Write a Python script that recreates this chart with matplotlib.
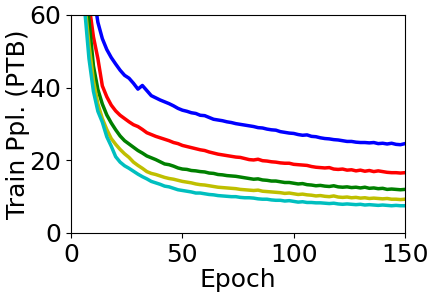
import numpy as np
import matplotlib
matplotlib.use("Agg")
import matplotlib.pyplot as plt

# epochs sampled every 2
epochs = np.arange(0, 151, 2)

blue = [250, 180, 130, 100, 80, 66, 58, 53.5, 50.5, 48.3, 46.5, 44.8, 43.4, 42.6, 41.2, 39.6,
        40.6, 39.2, 37.8, 37.2, 36.6, 36.1, 35.6, 35.0, 34.3, 33.8, 33.5, 33.1, 32.9, 32.4, 32.3,
        31.8, 31.3, 31.1, 30.9, 30.6, 30.4, 30.1, 29.9, 29.7, 29.5, 29.3, 29.0, 28.9, 28.6, 28.4,
        28.3, 27.9, 27.7, 27.5, 27.4, 27.1, 26.9, 27.0, 26.6, 26.5, 26.2, 26.0, 25.9, 25.7, 25.6,
        25.4, 25.2, 25.2, 25.0, 24.9, 24.9, 24.8, 24.9, 24.6, 24.7, 24.5, 24.7, 24.4, 24.3, 24.6]
red = [200, 140, 100, 78, 63, 54, 48, 40.5, 37.5, 35.2, 33.6, 32.4, 31.5, 30.6, 29.8, 29.3,
       28.5, 27.6, 27.1, 26.6, 26.2, 25.8, 25.4, 24.9, 24.6, 24.1, 23.8, 23.5, 23.2, 22.9, 22.7,
       22.3, 22.0, 21.7, 21.5, 21.3, 21.1, 20.9, 20.8, 20.5, 20.2, 20.1, 20.3, 19.9, 19.8, 19.6,
       19.5, 19.3, 19.2, 19.2, 18.9, 18.8, 18.7, 18.6, 18.3, 18.1, 18.0, 17.9, 18.0, 17.6, 17.5,
       17.6, 17.3, 17.4, 17.1, 17.3, 17.0, 17.2, 16.9, 17.1, 16.9, 16.7, 16.6, 16.6, 16.5, 16.6]
green = [180, 120, 90, 70, 58.5, 46, 39.5, 35.5, 32.5, 30.3, 28.4, 26.7, 25.4, 24.5, 23.6, 22.7,
         22.0, 21.2, 20.7, 20.2, 19.6, 19.0, 18.8, 18.4, 17.9, 17.6, 17.5, 17.2, 17.1, 16.9, 16.8,
         16.5, 16.4, 16.1, 16.0, 15.8, 15.7, 15.6, 15.4, 15.2, 15.0, 14.8, 14.9, 14.6, 14.5, 14.3,
         14.3, 14.1, 13.9, 13.9, 13.7, 13.5, 13.6, 13.3, 13.2, 13.0, 13.1, 12.9, 12.8, 13.0, 12.7,
         12.6, 12.7, 12.5, 12.6, 12.4, 12.6, 12.3, 12.4, 12.2, 12.3, 12.0, 12.1, 12.0, 11.9, 12.0]
yellow = [160, 110, 80, 64, 52, 42, 35.5, 31.5, 28.5, 26.0, 24.4, 23.0, 21.8, 20.8, 19.5, 18.6,
          17.8, 16.9, 16.4, 16.1, 15.7, 15.3, 15.0, 14.8, 14.5, 14.2, 14.0, 13.8, 13.5, 13.3, 13.2,
          13.0, 12.8, 12.6, 12.5, 12.4, 12.3, 12.2, 12.0, 11.9, 11.8, 11.7, 11.8, 11.5, 11.4, 11.3,
          11.2, 11.1, 10.9, 11.0, 10.8, 10.6, 10.7, 10.5, 10.4, 10.2, 10.3, 10.1, 10.0, 10.2, 9.9,
          9.8, 9.9, 9.7, 9.8, 9.6, 9.7, 9.5, 9.6, 9.5, 9.4, 9.5, 9.3, 9.3, 9.2, 9.3]
cyan = [150, 100, 75, 62, 48, 39, 33.5, 30.5, 26.5, 23.9, 21.0, 19.5, 18.5, 17.8, 17.0, 16.2,
        15.5, 14.9, 14.2, 13.8, 13.4, 12.9, 12.7, 12.3, 11.9, 11.7, 11.5, 11.3, 11.0, 11.0, 10.8,
        10.6, 10.5, 10.3, 10.2, 10.1, 10.0, 10.0, 9.8, 9.7, 9.7, 9.6, 9.4, 9.3, 9.3, 9.1,
        9.0, 9.0, 8.8, 8.9, 8.7, 8.5, 8.6, 8.4, 8.4, 8.3, 8.3, 8.2, 8.1, 8.2, 8.0,
        7.9, 8.0, 7.9, 7.8, 7.9, 7.7, 7.8, 7.7, 7.6, 7.7, 7.6, 7.5, 7.6, 7.5, 7.5]

series = [(blue, 'b'), (red, 'r'), (green, 'g'), (yellow, 'y'), (cyan, 'c')]

fig = plt.figure(figsize=(4.34, 2.97), dpi=100)
ax = fig.add_axes([0.164, 0.2155, 0.769, 0.734])
for vals, col in series:
    ax.plot(epochs, vals, color=col, linewidth=2.5)

ax.set_xlim(0, 150)
ax.set_ylim(0, 60)
ax.set_xticks([0, 50, 100, 150])
ax.set_yticks([0, 20, 40, 60])
ax.tick_params(labelsize=18)
ax.set_xlabel("Epoch", fontsize=18, labelpad=1)
ax.set_ylabel("Train Ppl. (PTB)", fontsize=18, labelpad=0)

fig.savefig("out.png", dpi=100)
